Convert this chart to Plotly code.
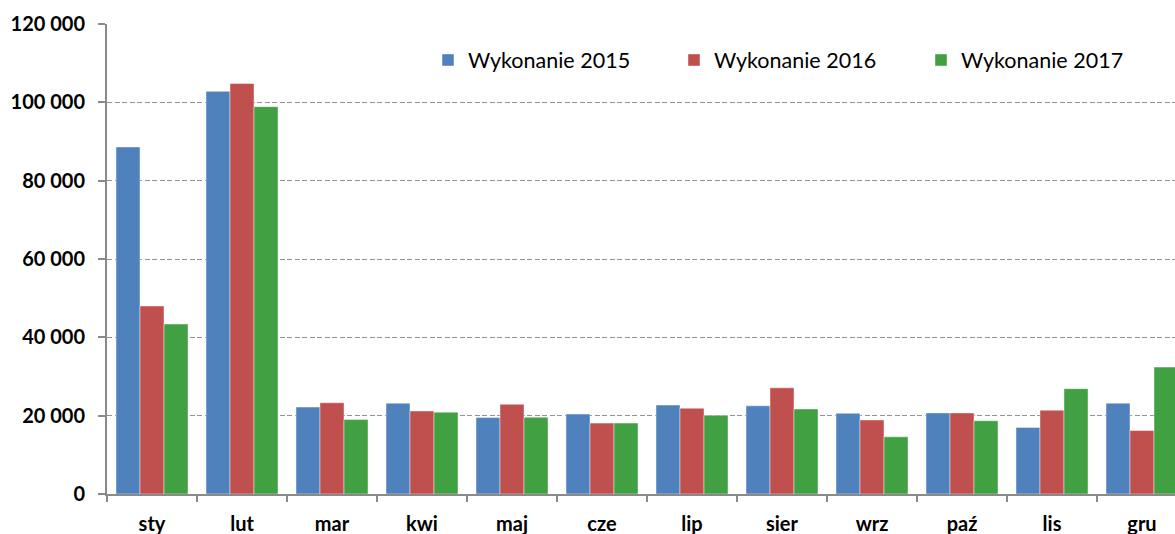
import plotly.graph_objects as go

months = ["sty", "lut", "mar", "kwi", "maj", "cze", "lip", "sier", "wrz", "paź", "lis", "gru"]
w2015 = [88600, 102800, 22200, 23200, 19500, 20400, 22700, 22500, 20600, 20700, 17000, 23200]
w2016 = [48000, 104800, 23300, 21200, 22900, 18100, 21900, 27100, 18900, 20700, 21400, 16200]
w2017 = [43400, 98900, 19000, 20900, 19600, 18100, 20100, 21700, 14600, 18700, 26900, 32400]
names = ["Wykonanie 2015", "Wykonanie 2016", "Wykonanie 2017"]
colors = ["#4F81BD", "#C0504D", "#41A042"]
y_ticks = [0, 20000, 40000, 60000, 80000, 100000, 120000]

W, H = 1175, 534
ML, MR, MT, MB = 107, 0, 24, 40
plot_w = W - ML - MR
plot_h = H - MT - MB
cat_w = 90.0
x_max = -0.5 + plot_w / cat_w

fig = go.Figure()
legend_ids = ["legend", "legend2", "legend3"]
for vals, name, col, lid in zip([w2015, w2016, w2017], names, colors, legend_ids):
    fig.add_trace(go.Bar(
        x=months, y=vals, name=name, legend=lid,
        marker=dict(color=col, line=dict(color="rgba(255,255,255,0.55)", width=0.8)),
    ))

FONT = "Lato"
axis_gray = "#8a8a8a"

def legend_cfg(px_left):
    return dict(
        x=(px_left - ML) / plot_w, xanchor="left",
        y=1 - (60 - MT) / plot_h, yanchor="middle",
        bgcolor="rgba(0,0,0,0)", borderwidth=0,
        font=dict(family=FONT, size=21.5, color="#000000"),
        itemwidth=30,
    )

fig.update_layout(
    width=W, height=H,
    margin=dict(l=ML, r=MR, t=MT, b=MB, pad=0),
    paper_bgcolor="white", plot_bgcolor="white",
    barmode="group", bargap=0.2, bargroupgap=0.0,
    separators=", ",
    showlegend=True,
    legend=legend_cfg(442 - 14),
    legend2=legend_cfg(688 - 14),
    legend3=legend_cfg(935 - 14),
    font=dict(family=FONT, color="#000000"),
)

fig.update_xaxes(
    type="category", range=[-0.5, x_max],
    showline=True, linecolor=axis_gray, linewidth=2,
    ticks="outside", tickson="boundaries", ticklen=6, tickcolor=axis_gray, tickwidth=2,
    showgrid=False, zeroline=False, automargin=False,
    tickfont=dict(family=FONT, size=20, color="#000000", weight="bold"),
    ticklabelstandoff=11,
)
fig.update_yaxes(
    range=[0, 120000], tickvals=y_ticks, tickformat=",.0f",
    showline=True, linecolor=axis_gray, linewidth=2,
    ticks="outside", ticklen=7, tickcolor=axis_gray, tickwidth=1.5,
    showgrid=True, gridcolor="#939393", gridwidth=1.3, griddash="5px,2.5px",
    zeroline=False, automargin=False,
    tickfont=dict(family=FONT, size=20, color="#000000", weight="bold"),
    ticklabelstandoff=9,
)

fig.write_html(
    "out.html",
    config={"displayModeBar": False},
    post_script="document.body.style.margin='0';document.body.style.overflow='hidden';",
)
